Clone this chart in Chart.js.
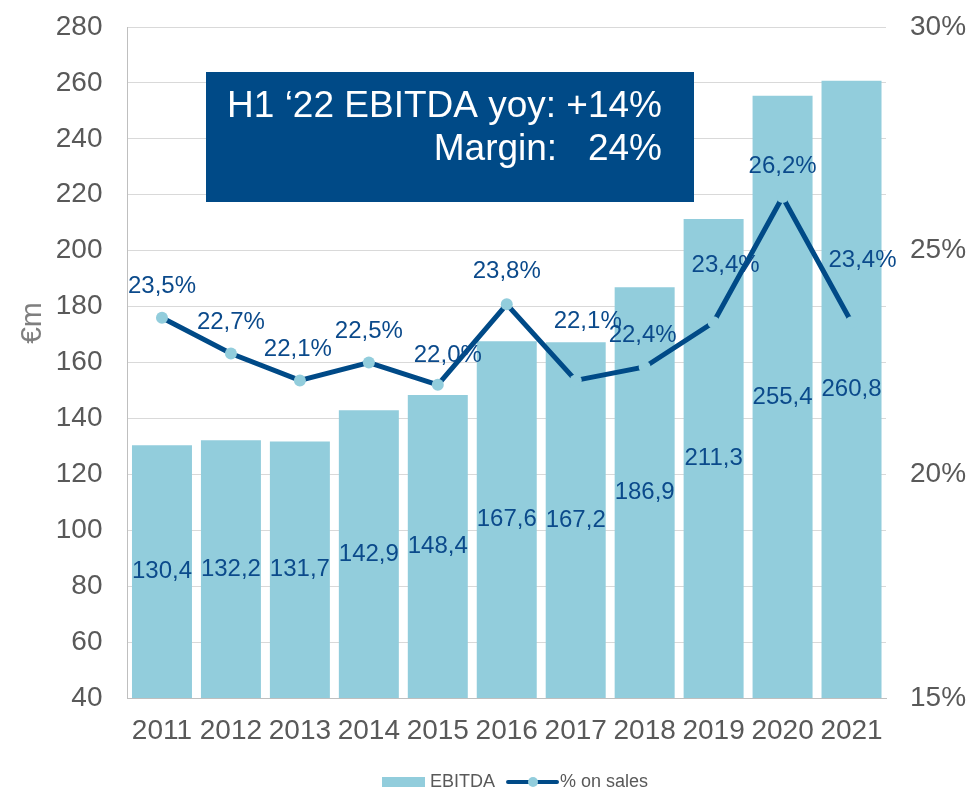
<!DOCTYPE html>
<html>
<head>
<meta charset="utf-8">
<script src="https://cdn.jsdelivr.net/npm/chart.js@4"></script>
<style>
html, body { margin: 0; padding: 0; background: #fff; }
#wrap { width: 971px; height: 791px; }
</style>
</head>
<body>
<div id="wrap"><canvas id="chart"></canvas></div>
<script>
const years = ["2011", "2012", "2013", "2014", "2015", "2016", "2017", "2018", "2019", "2020", "2021"];
const ebitda = [130.4, 132.2, 131.7, 142.9, 148.4, 167.6, 167.2, 186.9, 211.3, 255.4, 260.8];
const marginPct = [23.5, 22.7, 22.1, 22.5, 22.0, 23.8, 22.1, 22.4, 23.4, 26.2, 23.4];
const boxLines = ["H1 \u201822 EBITDA yoy: +14%", "Margin:   24%"];

// label nudges for the % labels (pixels from the point)
const pctLabelShift = [[0, -31], [0, -31], [-2, -31], [0, -31], [10, -29], [0, -33],
                       [12, -59], [-2, -32], [12, -57], [0, -31], [11, -62]];

const FONT = '"Liberation Sans", Arial, sans-serif';
const BAR_COLOR = "#92CDDC";
const DARK = "#004A87";
const LABEL_COLOR = "#0B4A8B";
const GREY = "#595959";

function comma(v) {
    return v.toFixed(1).replace(".", ",");
}

const extras = {
    id: "extras",
    afterDatasetsDraw(chart) {
        const ctx = chart.ctx;
        const area = chart.chartArea;
        ctx.save();
        ctx.font = "24px " + FONT;
        ctx.fillStyle = LABEL_COLOR;
        ctx.textAlign = "center";
        ctx.textBaseline = "middle";

        chart.getDatasetMeta(0).data.forEach((bar, i) => {
            const base = Math.min(bar.base, area.bottom);
            ctx.fillText(comma(ebitda[i]), bar.x, (bar.y + base) / 2);
        });
        chart.getDatasetMeta(1).data.forEach((pt, i) => {
            const s = pctLabelShift[i];
            ctx.fillText(comma(marginPct[i]) + "%", pt.x + s[0], pt.y + s[1]);
        });

        // highlight box
        ctx.fillStyle = "#004A87";
        ctx.fillRect(206, 72, 488, 130);
        ctx.fillStyle = "#ffffff";
        ctx.font = "37px " + FONT;
        ctx.textAlign = "right";
        ctx.textBaseline = "alphabetic";
        ctx.fillText(boxLines[0], 662, 117);
        ctx.fillText(boxLines[1], 662, 160);

        // axis title
        ctx.save();
        ctx.translate(33, 323);
        ctx.rotate(-Math.PI / 2);
        ctx.textAlign = "center";
        ctx.textBaseline = "middle";
        ctx.fillStyle = "#7F7F7F";
        ctx.font = "30px " + FONT;
        ctx.fillText("\u20acm", 0, 0);
        ctx.restore();

        // legend
        const ly = 782;
        ctx.font = "18px " + FONT;
        ctx.textAlign = "left";
        ctx.textBaseline = "middle";
        let x = 382;
        ctx.fillStyle = BAR_COLOR;
        ctx.fillRect(x, ly - 5, 43, 10);
        x += 48;
        ctx.fillStyle = GREY;
        ctx.fillText(chart.data.datasets[0].label, x, ly);
        x += ctx.measureText(chart.data.datasets[0].label).width + 13;
        ctx.strokeStyle = DARK;
        ctx.lineWidth = 4;
        ctx.lineCap = "round";
        ctx.beginPath();
        ctx.moveTo(x, ly);
        ctx.lineTo(x + 49, ly);
        ctx.stroke();
        ctx.fillStyle = BAR_COLOR;
        ctx.beginPath();
        ctx.arc(x + 25, ly, 5, 0, Math.PI * 2);
        ctx.fill();
        x += 52;
        ctx.fillStyle = GREY;
        ctx.fillText(chart.data.datasets[1].label, x, ly);
        ctx.restore();
    }
};

function fixWidth(w) {
    return function (scale) {
        scale.width = w;
        scale.paddingTop = 0;
        scale.paddingBottom = 0;
    };
}

new Chart(document.getElementById("chart"), {
    type: "bar",
    data: {
        labels: years,
        datasets: [{
            type: "bar",
            label: "EBITDA",
            data: ebitda,
            backgroundColor: BAR_COLOR,
            categoryPercentage: 1,
            barPercentage: 0.87,
            yAxisID: "y",
            order: 1
        }, {
            type: "line",
            label: "% on sales",
            data: marginPct,
            borderColor: DARK,
            borderWidth: 5,
            pointRadius: 6,
            pointBackgroundColor: BAR_COLOR,
            pointBorderWidth: 0,
            tension: 0,
            yAxisID: "y1",
            order: 0
        }]
    },
    options: {
        responsive: true,
        maintainAspectRatio: false,
        animation: false,
        layout: { padding: { top: 27, left: 0, right: 0, bottom: 0 } },
        plugins: {
            legend: { display: false },
            tooltip: { enabled: false }
        },
        scales: {
            x: {
                grid: { display: false, drawTicks: false },
                border: { color: "#BFBFBF" },
                ticks: { color: GREY, font: { family: FONT, size: 28 }, padding: 16, maxRotation: 0 },
                afterFit(scale) { scale.height = 93; }
            },
            y: {
                position: "left",
                min: 40,
                max: 280,
                ticks: { stepSize: 20, color: GREY, font: { family: FONT, size: 28 }, padding: 25 },
                grid: { color: "#D9D9D9", drawTicks: false },
                border: { color: "#BFBFBF" },
                afterFit: fixWidth(127.5)
            },
            y1: {
                position: "right",
                min: 15,
                max: 30,
                ticks: { stepSize: 5, color: GREY, font: { family: FONT, size: 28 }, padding: 24,
                         callback: v => v + "%" },
                grid: { display: false, drawTicks: false },
                border: { display: false },
                afterFit: fixWidth(85)
            }
        }
    },
    plugins: [extras]
});
</script>
</body>
</html>
